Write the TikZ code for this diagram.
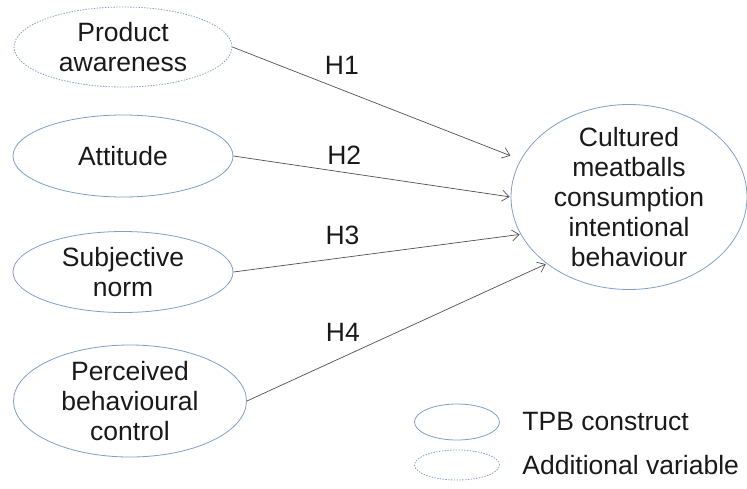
\documentclass[tikz,border=0pt]{standalone}
\usepackage{fontspec}
\setmainfont{Liberation Sans}
\usetikzlibrary{shapes.geometric, positioning, arrows.meta}
\definecolor{ellblue}{RGB}{130,158,196}
\definecolor{arrgray}{RGB}{80,80,80}

\begin{document}
\begin{tikzpicture}[x=1pt,y=-1pt,->,>={Straight Barb[length=7pt,width=11pt]},shorten >=1pt,
                    every edge/.style={draw=arrgray,line width=0.7pt},
                    main node/.style={ellipse,draw=ellblue,line width=0.8pt,align=center,inner sep=0pt,
                                      text=black!90,font=\fontsize{26.5}{30}\selectfont},
                    extra node/.style={main node,dash pattern=on 1.4pt off 1.4pt}]
        \useasboundingbox (0,0) rectangle (747,488);

        \node[extra node,minimum width=218pt,minimum height=80pt] (pa) at (123,47) {Product\\awareness};
        \node[main node,minimum width=220pt,minimum height=82pt] (att) at (123,156) {Attitude};
        \node[main node,minimum width=220pt,minimum height=81pt] (sn) at (123,272) {Subjective\\norm};
        \node[main node,minimum width=233pt,minimum height=112pt,inner ysep=-1pt] (pbc) at (130,401) {Perceived\\behavioural\\control};
        \node[main node,minimum width=236pt,minimum height=185pt,inner ysep=-5pt] (cm) at (629,197)
             {Cultured\\meatballs\\consumption\\intentional\\behaviour};

        % legend
        \node[main node,minimum width=85pt,minimum height=36pt] (tpb) at (457,422) {};
        \node[extra node,minimum width=85pt,minimum height=30pt] (add) at (457,465) {};
        \node[right=19pt of tpb,font=\fontsize{26.5}{30}\selectfont,text=black!90] (tpbtext) {TPB construct};
        \node[right=19pt of add,font=\fontsize{26.5}{30}\selectfont,text=black!90] (addtext) {Additional variable};

        \path[every node/.style={font=\fontsize{26.5}{30}\selectfont,text=black!90}]
          (pa.east) edge[shorten >=11pt] node[pos=0.38,yshift=24pt] {H1} (cm.161)
          (att.east) edge node[pos=0.40,yshift=17pt] {H2} (cm.west)
          (sn.east) edge node[pos=0.38,yshift=22pt] {H3} (cm.199)
          (pbc.east) edge node[pos=0.32,yshift=25pt] {H4} (cm.219);
      \end{tikzpicture}
\end{document}
